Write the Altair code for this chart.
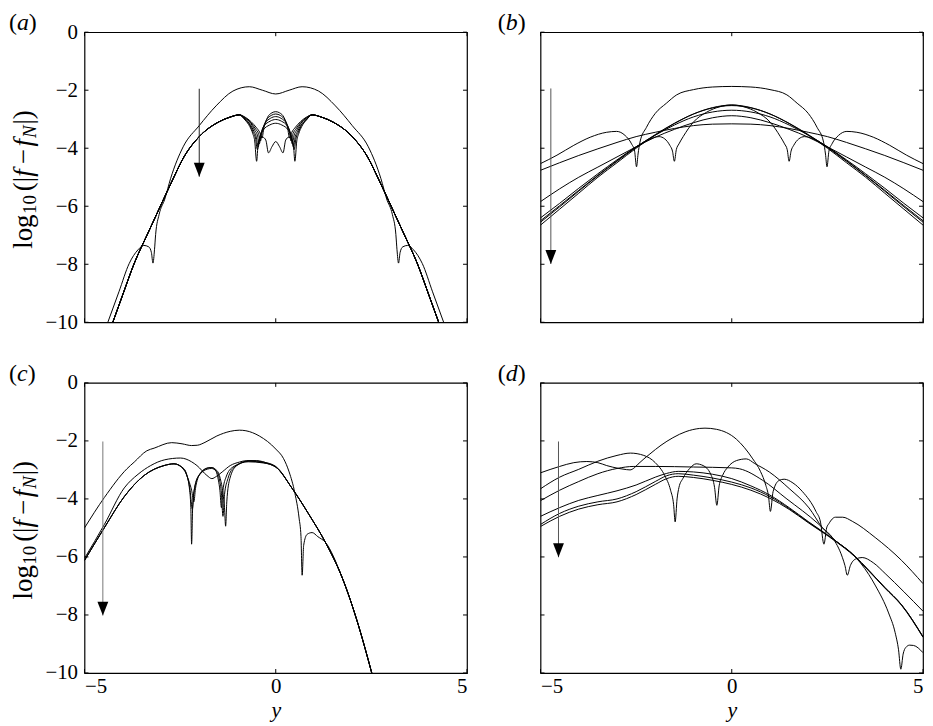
import altair as alt
import pandas as pd

W, H = 385, 292
FONT = "Liberation Serif"
X_TICKS = [-5, 0, 5]
Y_TICKS = [0, -2, -4, -6, -8, -10]

# ---------------- panel (a) ----------------
A_TOP_X = [-4.39, -4.1, -3.83, -3.6, -3.45, -3.32, -3.25, -3.21, -3.17, -3.14, -3.05, -2.9, -2.75, -2.42, -2.0,
           -1.56, -1.12, -0.69, -0.35, 0.0, 0.35, 0.69, 1.12, 1.56, 2.0, 2.42, 2.75, 2.9, 3.05, 3.14, 3.17, 3.21,
           3.25, 3.32, 3.45, 3.6, 3.83, 4.1, 4.39]
A_TOP_Y = [-10.0, -8.95, -7.97, -7.5, -7.35, -7.4, -7.6, -7.96, -7.5, -6.97, -6.29, -5.75, -5.05, -3.95, -3.22,
           -2.54, -2.03, -1.88, -2.0, -2.13, -2.0, -1.88, -2.03, -2.54, -3.22, -3.95, -5.05, -5.75, -6.29, -6.97,
           -7.5, -7.96, -7.6, -7.4, -7.35, -7.5, -7.97, -8.95, -10.0]
A_OUT_L_X = [-4.26, -4.0, -3.7, -3.35, -3.0, -2.7, -2.4, -2.0, -1.5, -1.2, -0.95]
A_OUT_L_Y = [-10.0, -9.05, -7.97, -6.95, -5.95, -5.1, -4.3, -3.6, -3.1, -2.93, -2.85]
A_OUT_R_X = [0.95, 1.2, 1.5, 2.0, 2.4, 2.7, 3.0, 3.35, 3.7, 4.0, 4.26]
A_OUT_R_Y = [-2.85, -2.93, -3.1, -3.6, -4.3, -5.1, -5.95, -6.95, -7.97, -9.05, -10.0]
A2_X = [-0.8, -0.65, -0.5, -0.42, -0.36, -0.31, -0.22, -0.1, 0, 0.1, 0.22, 0.31, 0.36, 0.42, 0.5, 0.65, 0.8]
A2_Y = [-2.93, -3.08, -3.3, -3.45, -3.65, -3.3, -2.95, -2.78, -2.74, -2.78, -2.95, -3.3, -3.65, -3.45, -3.3, -3.08, -2.93]
A3_X = [-0.8, -0.65, -0.52, -0.45, -0.4, -0.35, -0.25, -0.12, 0, 0.12, 0.25, 0.35, 0.4, 0.45, 0.52, 0.65, 0.8]
A3_Y = [-2.95, -3.12, -3.35, -3.5, -3.75, -3.4, -3.05, -2.87, -2.82, -2.87, -3.05, -3.4, -3.75, -3.5, -3.35, -3.12, -2.95]
A4_X = [-0.8, -0.65, -0.55, -0.48, -0.43, -0.38, -0.28, -0.14, 0, 0.14, 0.28, 0.38, 0.43, 0.48, 0.55, 0.65, 0.8]
A4_Y = [-2.97, -3.15, -3.38, -3.55, -3.85, -3.5, -3.15, -2.97, -2.91, -2.97, -3.15, -3.5, -3.85, -3.55, -3.38, -3.15, -2.97]
A5_X = [-0.8, -0.66, -0.57, -0.51, -0.46, -0.41, -0.31, -0.15, 0, 0.15, 0.31, 0.41, 0.46, 0.51, 0.57, 0.66, 0.8]
A5_Y = [-3.0, -3.2, -3.42, -3.6, -3.95, -3.6, -3.25, -3.07, -3.01, -3.07, -3.25, -3.6, -3.95, -3.6, -3.42, -3.2, -3.0]
A6_X = [-0.8, -0.67, -0.59, -0.53, -0.48, -0.43, -0.33, -0.16, 0, 0.16, 0.33, 0.43, 0.48, 0.53, 0.59, 0.67, 0.8]
A6_Y = [-3.02, -3.22, -3.45, -3.65, -4.05, -3.7, -3.38, -3.2, -3.14, -3.2, -3.38, -3.7, -4.05, -3.65, -3.45, -3.22, -3.02]
A7_X = [-0.8, -0.68, -0.6, -0.55, -0.5, -0.46, -0.4, -0.34, -0.26, -0.19, -0.1, 0, 0.1, 0.19, 0.26, 0.34, 0.4,
        0.46, 0.5, 0.55, 0.6, 0.68, 0.8]
A7_Y = [-3.03, -3.25, -3.5, -3.75, -4.45, -3.85, -3.66, -3.62, -3.72, -4.16, -3.95, -3.77, -3.95, -4.16, -3.72,
        -3.62, -3.66, -3.85, -4.45, -3.75, -3.5, -3.25, -3.03]
ARROW_A = [-2.0, -1.95, -4.98]

# ---------------- panel (b) ----------------
B_DOME_X = [-5, -4.57, -4.13, -3.7, -3.27, -3.01, -2.79, -2.62, -2.54, -2.49, -2.45, -2.4, -2.23, -2.0, -1.71,
            -1.44, -1.0, -0.5, 0, 0.5, 1.0, 1.44, 1.71, 2.0, 2.23, 2.4, 2.45, 2.49, 2.54, 2.62, 2.79, 3.01, 3.27,
            3.7, 4.13, 4.57, 5]
B_DOME_Y = [-4.53, -4.24, -3.9, -3.62, -3.45, -3.42, -3.56, -3.85, -4.1, -4.64, -4.2, -3.79, -3.28, -2.8, -2.45,
            -2.16, -1.98, -1.89, -1.87, -1.89, -1.98, -2.16, -2.45, -2.8, -3.28, -3.79, -4.2, -4.64, -4.1, -3.85,
            -3.56, -3.42, -3.45, -3.62, -3.9, -4.24, -4.53]
B_CUSP_X = [-5, -4.5, -4, -3.5, -3, -2.5, -2.2, -1.9, -1.75, -1.62, -1.55, -1.5, -1.45, -1.38, -1.27, -1.01,
            -0.66, -0.31, 0, 0.31, 0.66, 1.01, 1.27, 1.38, 1.45, 1.5, 1.55, 1.62, 1.75, 1.9, 2.2, 2.5, 3, 3.5, 4,
            4.5, 5]
B_CUSP_Y = [-6.5, -5.98, -5.45, -4.93, -4.43, -3.96, -3.72, -3.6, -3.68, -3.9, -4.1, -4.45, -4.05, -3.85, -3.6,
            -3.11, -2.76, -2.57, -2.51, -2.57, -2.76, -3.11, -3.6, -3.85, -4.05, -4.45, -4.1, -3.9, -3.68, -3.6,
            -3.72, -3.96, -4.43, -4.93, -5.45, -5.98, -6.5]
B_X = [-5, -4.5, -4, -3.5, -3, -2.5, -2, -1.5, -1, -0.5, 0, 0.5, 1, 1.5, 2, 2.5, 3, 3.5, 4, 4.5, 5]
B1_Y = [-6.65, -6.1, -5.55, -5.0, -4.5, -4.0, -3.55, -3.15, -2.82, -2.6, -2.51, -2.6, -2.82, -3.15, -3.55, -4.0,
        -4.5, -5.0, -5.55, -6.1, -6.65]
B2_Y = [-6.55, -6.02, -5.48, -4.95, -4.45, -3.97, -3.53, -3.14, -2.82, -2.61, -2.53, -2.61, -2.82, -3.14, -3.53,
        -3.97, -4.45, -4.95, -5.48, -6.02, -6.55]
B3_Y = [-6.4, -5.9, -5.38, -4.88, -4.4, -3.95, -3.55, -3.2, -2.92, -2.75, -2.69, -2.75, -2.92, -3.2, -3.55, -3.95,
        -4.4, -4.88, -5.38, -5.9, -6.4]
B4_Y = [-5.84, -5.4, -5.0, -4.65, -4.3, -3.95, -3.62, -3.35, -3.12, -2.95, -2.88, -2.95, -3.12, -3.35, -3.62,
        -3.95, -4.3, -4.65, -5.0, -5.4, -5.84]
B5_Y = [-4.76, -4.5, -4.25, -4.02, -3.8, -3.6, -3.45, -3.32, -3.22, -3.17, -3.16, -3.17, -3.22, -3.32, -3.45,
        -3.6, -3.8, -4.02, -4.25, -4.5, -4.76]
ARROW_B = [-4.73, -1.94, -7.99]

# ---------------- panel (c) ----------------
C_TOP_X = [-5, -4.48, -3.89, -3.7, -3.37, -3.18, -2.72, -2.45, -2.2, -2.05, -1.85, -1.54, -1.19, -0.95, -0.78,
           -0.43, 0.0, 0.2, 0.35, 0.5, 0.61, 0.66, 0.69, 0.73, 0.82, 0.95, 1.1, 1.3, 1.73, 2.16, 2.51]
C_TOP_Y = [-5.0, -3.95, -2.96, -2.73, -2.34, -2.25, -2.06, -2.1, -2.16, -2.15, -2.05, -1.83, -1.67, -1.63, -1.65,
           -1.83, -2.28, -2.6, -3.07, -3.8, -4.66, -5.3, -6.63, -5.6, -5.22, -5.16, -5.3, -5.5, -6.69, -8.35, -10.0]
C_OUT_L_X = [-5, -4.48, -3.96, -3.44, -2.92, -2.66]
C_OUT_L_Y = [-6.12, -4.99, -3.92, -3.19, -2.85, -2.79]
C_OUT_R_X = [0.43, 0.87, 1.3, 1.73, 2.16, 2.51]
C_OUT_R_Y = [-3.64, -4.54, -5.5, -6.69, -8.35, -10.0]
C2_X = [-5, -4.48, -3.96, -3.6, -3.27, -2.9, -2.49, -2.2, -2.06, -1.8, -1.67, -1.55, -1.4, -1.19, -0.95, -0.76,
        -0.5, -0.2, 0]
C2_Y = [-6.05, -4.88, -3.62, -3.15, -2.85, -2.65, -2.59, -2.72, -2.85, -3.19, -3.3, -3.22, -3.07, -2.85, -2.73,
        -2.68, -2.68, -2.78, -2.9]
C3_X = [-2.4, -2.32, -2.26, -2.22, -2.2, -2.17, -2.12, -2.01, -1.8, -1.7, -1.54, -1.45, -1.38, -1.34, -1.31, -1.28,
        -1.2, -1.02, -0.67, -0.32, 0]
C3_Y = [-2.96, -3.2, -3.6, -4.3, -5.56, -4.2, -3.6, -3.19, -2.94, -2.92, -3.02, -3.3, -3.8, -4.3, -4.94, -4.1,
        -3.3, -2.85, -2.68, -2.73, -2.88]
C4_X = [-2.4, -2.3, -2.24, -2.18, -2.14, -2.08, -1.98, -1.78, -1.68, -1.55, -1.47, -1.42, -1.38, -1.34, -1.25,
        -1.08, -0.7, -0.32, 0]
C4_Y = [-2.98, -3.3, -3.7, -4.35, -3.8, -3.4, -3.15, -2.97, -2.95, -3.05, -3.35, -3.8, -4.6, -3.85, -3.3, -2.9,
        -2.7, -2.75, -2.9]
C5_X = [-2.4, -2.28, -2.2, -2.14, -2.1, -2.04, -1.94, -1.76, -1.66, -1.56, -1.5, -1.46, -1.42, -1.38, -1.3,
        -1.12, -0.72, -0.32, 0]
C5_Y = [-3.0, -3.35, -3.7, -4.1, -3.65, -3.3, -3.08, -2.93, -2.92, -3.05, -3.35, -3.7, -4.3, -3.7, -3.25, -2.9,
        -2.72, -2.76, -2.9]
ARROW_C = [-4.52, -2.02, -8.02]

# ---------------- panel (d) ----------------
D1_X = [-5, -4.5, -4.13, -3.79, -3.5, -3.27, -2.95, -2.75, -2.66, -2.55, -2.45, -2.14, -1.85, -1.54, -1.2, -0.84,
        -0.7, -0.4, 0.12, 0.55, 0.75, 0.89, 0.96, 1.01, 1.08, 1.24, 1.37, 1.6, 1.85, 2.2, 2.32, 2.41, 2.48, 2.54,
        2.71, 2.9, 3.15, 3.75, 4.44, 5]
D1_Y = [-3.1, -2.88, -2.75, -2.71, -2.75, -2.85, -2.95, -2.99, -3.0, -2.93, -2.8, -2.45, -2.15, -1.89, -1.68,
        -1.57, -1.56, -1.6, -1.94, -2.62, -3.05, -3.53, -3.9, -4.43, -3.75, -3.36, -3.32, -3.45, -3.75, -4.43,
        -4.8, -5.56, -5.0, -4.85, -4.63, -4.63, -4.77, -5.33, -6.12, -6.92]
D2_X = [-5, -4.5, -4, -3.5, -3, -2.65, -2.3, -2.0, -1.75, -1.6, -1.52, -1.48, -1.43, -1.38, -1.28, -1.1, -0.93,
        -0.75, -0.55, -0.45, -0.39, -0.33, -0.24, -0.1, 0.12, 0.38, 0.6, 0.98, 1.5, 2.02, 2.37, 2.63, 2.89, 2.96,
        3.02, 3.1, 3.24, 3.41, 3.7, 4.01, 4.5, 5]
D2_Y = [-3.65, -3.25, -2.98, -2.7, -2.5, -2.42, -2.5, -2.75, -3.2, -3.7, -4.2, -4.79, -4.0, -3.6, -3.3, -2.95,
        -2.79, -2.85, -3.15, -3.6, -4.22, -3.55, -3.19, -2.9, -2.68, -2.62, -2.78, -3.07, -3.64, -4.31, -4.99,
        -5.33, -6.01, -6.3, -6.63, -6.3, -6.07, -6.02, -6.2, -6.57, -7.2, -7.87]
D3_X = [-5, -4.5, -4, -3.5, -3, -2.56, -2, -1, 0, 0.2, 0.81, 1.42, 2.28, 2.71, 3.15, 3.58, 3.76, 4.1, 4.27, 4.36,
        4.42, 4.48, 4.55, 4.65, 4.75, 5]
D3_Y = [-4.06, -3.7, -3.4, -3.13, -2.95, -2.88, -2.88, -2.9, -2.93, -2.96, -3.36, -3.98, -4.88, -5.44, -5.89,
        -6.6, -7.0, -7.93, -8.6, -9.2, -9.87, -9.35, -9.12, -9.04, -9.05, -9.3]
D_X = [-5, -4.5, -4, -3.5, -3, -2.5, -2, -1.7, -1.4, -1, -0.5, 0, 0.5, 1, 1.5, 2, 2.71, 3.2, 3.58, 4, 4.44, 5]
D4_Y = [-4.6, -4.3, -4.05, -3.88, -3.72, -3.52, -3.25, -3.12, -3.05, -3.07, -3.15, -3.3, -3.55, -3.87, -4.3,
        -4.78, -5.44, -5.95, -6.46, -7.05, -7.65, -8.75]
D5_Y = [-4.88, -4.5, -4.25, -4.1, -4.0, -3.75, -3.4, -3.2, -3.13, -3.18, -3.28, -3.42, -3.62, -3.92, -4.33, -4.8,
        -5.44, -5.95, -6.46, -7.05, -7.65, -8.75]
D6_Y = [-4.95, -4.6, -4.35, -4.2, -4.1, -3.85, -3.5, -3.3, -3.22, -3.26, -3.36, -3.5, -3.7, -3.98, -4.36, -4.82,
        -5.46, -5.97, -6.48, -7.07, -7.67, -8.77]
ARROW_D = [-4.53, -2.02, -6.01]

# ---------------- assemble curves ----------------
def join(*parts):
    xs, ys = [], []
    for px, py in parts:
        xs += list(px)
        ys += list(py)
    return xs, ys

A_OL = (A_OUT_L_X, A_OUT_L_Y)
A_OR = (A_OUT_R_X, A_OUT_R_Y)
CURVES_A = [(A_TOP_X, A_TOP_Y)] + [join(A_OL, (cx, cy), A_OR) for cx, cy in
                                   [(A2_X, A2_Y), (A3_X, A3_Y), (A4_X, A4_Y), (A5_X, A5_Y), (A6_X, A6_Y), (A7_X, A7_Y)]]
CURVES_B = [(B_DOME_X, B_DOME_Y), (B_CUSP_X, B_CUSP_Y)] + [(B_X, by) for by in [B1_Y, B2_Y, B3_Y, B4_Y, B5_Y]]
C_OL = (C_OUT_L_X, C_OUT_L_Y)
C_OR = (C_OUT_R_X, C_OUT_R_Y)
CURVES_C = [(C_TOP_X, C_TOP_Y), join((C2_X, C2_Y), C_OR)] + [join(C_OL, (cx, cy), C_OR) for cx, cy in
                                                            [(C3_X, C3_Y), (C4_X, C4_Y), (C5_X, C5_Y)]]
CURVES_D = [(D1_X, D1_Y), (D2_X, D2_Y), (D3_X, D3_Y)] + [(D_X, dy) for dy in [D4_Y, D5_Y, D6_Y]]


def lines_df(curves):
    rows = []
    for cid, (xs, ys) in enumerate(curves):
        assert len(xs) == len(ys), (cid, len(xs), len(ys))
        for i, (x, y) in enumerate(zip(xs, ys)):
            rows.append({"x": x, "y": y, "c": cid, "o": i})
    return pd.DataFrame(rows)


ONE = pd.DataFrame({"k": [0]})
HEAD = "M-0.78,-1L0.78,-1L0,1Z"


def txt(s, x, y, size, italic=False, angle=0):
    return alt.Chart(ONE).mark_text(
        text=s, font=FONT, fontSize=size, fontStyle=("italic" if italic else "normal"),
        align="left", baseline="middle", angle=angle, color="black"
    ).encode(x=alt.value(x), y=alt.value(y))


TITLE_FS, SUB_FS = 27, 19
# (text, offset along text, subscript, italic)
TITLE_PIECES = [("log", 0, False, False), ("10", 35, True, False), ("(|", 58, False, False),
                ("f", 72.5, False, True), ("\u2212", 85, False, False), ("f", 103, False, True),
                ("N", 111.5, True, True), ("|)", 125, False, False)]


def panel(curves, arrow, letter, letter_w, left, bottom, shaft_color):
    xs = alt.Scale(domain=[-5, 5], nice=False, zero=False)
    ys = alt.Scale(domain=[-10, 0], nice=False, zero=False)
    xax = alt.Axis(values=X_TICKS, ticks=False, domain=False, grid=False, labelPadding=3,
                   titleFontStyle="italic", titlePadding=3, titleFontSize=22) if bottom else None
    yax = alt.Axis(values=Y_TICKS, ticks=False, domain=False, grid=False, labelPadding=7) if left else None

    def X():
        return alt.X("x:Q", scale=xs, axis=xax, title=("y" if bottom else None))

    def Y():
        return alt.Y("y:Q", scale=ys, axis=yax, title=None)

    layers = []
    layers.append(alt.Chart(lines_df(curves)).mark_line(color="black", strokeWidth=1.0, clip=True,
                                                         interpolate="monotone")
                  .encode(x=X(), y=Y(), detail="c:N", order="o:Q"))
    ytk = pd.DataFrame({"y": Y_TICKS})
    xtk = pd.DataFrame({"x": X_TICKS})
    layers.append(alt.Chart(ytk).mark_rule(color="black", strokeWidth=1)
                  .encode(y=Y(), x=alt.value(0), x2=alt.value(4)))
    layers.append(alt.Chart(ytk).mark_rule(color="black", strokeWidth=1)
                  .encode(y=Y(), x=alt.value(W - 4), x2=alt.value(W)))
    layers.append(alt.Chart(xtk).mark_rule(color="black", strokeWidth=1)
                  .encode(x=X(), y=alt.value(H - 4), y2=alt.value(H)))
    layers.append(alt.Chart(xtk).mark_rule(color="black", strokeWidth=1)
                  .encode(x=X(), y=alt.value(0), y2=alt.value(4)))
    ax, ay0, ay1 = arrow
    layers.append(alt.Chart(pd.DataFrame({"x": [ax], "y": [ay0], "y2": [ay1]}))
                  .mark_rule(color=shaft_color, strokeWidth=1)
                  .encode(x=X(), y=Y(), y2="y2:Q"))
    layers.append(alt.Chart(pd.DataFrame({"x": [ax], "y": [ay1]}))
                  .mark_point(shape=HEAD, size=196, filled=True, color="black", opacity=1, yOffset=-7,
                              strokeWidth=0)
                  .encode(x=X(), y=Y()))
    # panel letter
    lx = -76 if left else -43
    ly = -9
    layers.append(txt("(", lx, ly, 24))
    layers.append(txt(letter, lx + 8, ly, 24, italic=True))
    layers.append(txt(")", lx + 8 + letter_w, ly, 24))
    if left:
        s0 = 146 + 72
        for t, off, sub, it in TITLE_PIECES:
            layers.append(txt(t, -55 if sub else -61, s0 - off, SUB_FS if sub else TITLE_FS,
                              italic=it, angle=270))
    return alt.layer(*layers).properties(width=W, height=H)


pa = panel(CURVES_A, ARROW_A, "a", 12, True, False, "#222222")
pb = panel(CURVES_B, ARROW_B, "b", 12, False, False, "#555555")
pc = panel(CURVES_C, ARROW_C, "c", 11, True, True, "#777777")
pdd = panel(CURVES_D, ARROW_D, "d", 12, False, True, "#555555")

chart = alt.concat(pa, pb, pc, pdd, columns=2, spacing={"row": 61, "column": 74}, bounds="flush").properties(
    padding={"left": 0, "top": 0, "right": 0, "bottom": 0}
).configure_view(
    stroke="black", strokeWidth=1.2
).configure_axis(
    labelFont=FONT, labelFontSize=21, labelColor="black",
    titleFont=FONT, titleFontSize=22, titleColor="black", titleFontWeight="normal"
)

chart.save("out.html", embed_options={"renderer": "svg", "actions": False})
